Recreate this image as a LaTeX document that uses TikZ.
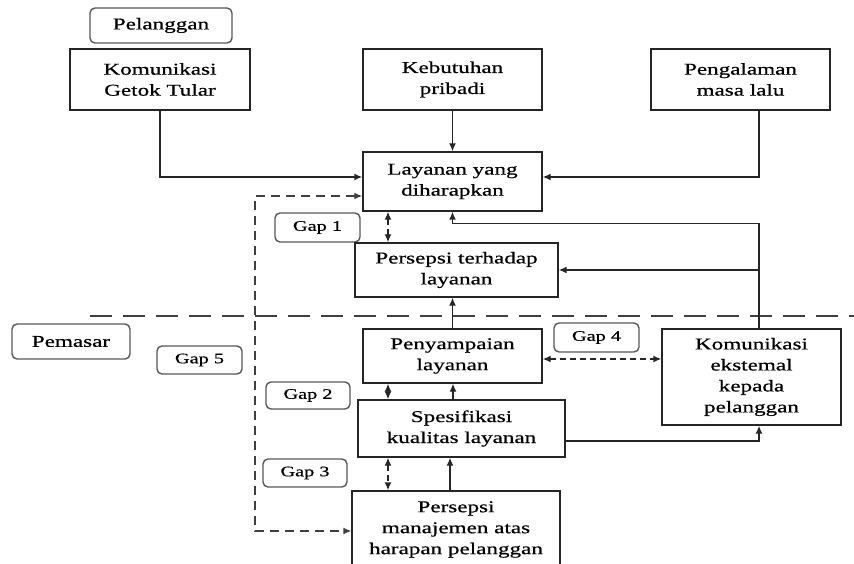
\documentclass[tikz,border=0pt]{standalone}
\usepackage{fontspec}
\setmainfont{Liberation Serif}[FakeStretch=1.4,FakeBold=0.6]
\usetikzlibrary{arrows.meta,calc}
\begin{document}
\begin{tikzpicture}[x=1pt,y=-1pt,
  box/.style={draw=black!85, line width=1.4pt, align=center, inner sep=0pt, font=\fontsize{16.5}{21}\selectfont},
  tag/.style={draw=black!65, line width=1.4pt, rounded corners=5pt, align=center, inner sep=0pt, font=\fontsize{14.5}{16}\selectfont},
  bigtag/.style={tag, font=\fontsize{16.5}{18}\selectfont},
  arr/.style={draw=black!85, line width=1.4pt, -{Latex[length=8pt,width=7pt]}},
  dbl/.style={draw=black!85, line width=1.4pt, dash pattern=on 6pt off 4pt, {Latex[length=8pt,width=7pt]}-{Latex[length=8pt,width=7pt]}},
  dline/.style={draw=black!75, line width=1.4pt, dash pattern=on 9pt off 6pt},
  sepline/.style={draw=black!75, line width=1.4pt, dash pattern=on 22pt off 11pt}
]
\useasboundingbox (0,0) rectangle (854,564);
\clip (0,0) rectangle (854,564);

% customer side
\node[bigtag, minimum width=142pt, minimum height=35pt] (pel) at (161,25.5) {Pelanggan};
\node[box, minimum width=180pt, minimum height=61pt] (kgt) at (160,79.5) {Komunikasi\\Getok Tular};
\node[box, minimum width=179pt, minimum height=61pt] (keb) at (452.5,79.5) {Kebutuhan\\pribadi};
\node[box, minimum width=179pt, minimum height=61pt] (pen) at (740.5,79.5) {Pengalaman\\masa lalu};
\node[box, minimum width=179pt, minimum height=59pt] (lyd) at (452.5,181.5) {Layanan yang\\diharapkan};
\node[tag, minimum width=85pt, minimum height=29pt] (gap1) at (317.5,227.5) {Gap 1};
\node[box, minimum width=203pt, minimum height=54pt] (pth) at (456.5,270) {Persepsi terhadap\\layanan};

% separator
\coordinate (sepL) at (90,316);
\coordinate (sepR) at (854,316);
\draw[sepline] (sepL) -- (sepR);

% marketer side
\node[bigtag, minimum width=118pt, minimum height=35pt] (pem) at (71,341.5) {Pemasar};
\node[tag, minimum width=85pt, minimum height=28pt] (gap5) at (199.5,360) {Gap 5};
\node[box, minimum width=179pt, minimum height=54pt] (pny) at (452.5,356) {Penyampaian\\layanan};
\node[tag, minimum width=85pt, minimum height=29pt] (gap4) at (596.5,337.5) {Gap 4};
\node[box, minimum width=179pt, minimum height=96pt] (kek) at (751.5,377) {Komunikasi\\ekstemal\\kepada\\pelanggan};
\node[tag, minimum width=84pt, minimum height=27pt] (gap2) at (308,395.5) {Gap 2};
\node[box, minimum width=207pt, minimum height=57pt] (spk) at (461.5,428.5) {Spesifikasi\\kualitas layanan};
\node[tag, minimum width=84pt, minimum height=28pt] (gap3) at (305,473) {Gap 3};
\node[box, minimum width=208pt, minimum height=77pt] (pma) at (456,529.5) {Persepsi\\manajemen atas\\harapan pelanggan};

% connectors, customer side
\draw[arr] (kgt.south) |- ([yshift=4.5pt]lyd.west);
\draw[arr] (keb.south) -- (lyd.north);
\draw[arr] ([xshift=18.5pt]pen.south) |- ([yshift=4.5pt]lyd.east);
\draw[dbl] ([xshift=-64.5pt]lyd.south) -- ([xshift=-64.5pt]lyd.south |- pth.north);

% Gap 5 dashed loop
\coordinate (g5bot) at (255,531);
\draw[dline, {Latex[length=8pt,width=7pt]}-{Latex[length=8pt,width=7pt]}] ([yshift=-14.5pt]lyd.west) -| (g5bot) -- (g5bot -| pma.west);

% external communication feedback
\draw[arr] ([xshift=7.5pt]kek.north) |- ([yshift=-12pt]lyd.south) -- (lyd.south);
\draw[arr] ([xshift=7.5pt]kek.north |- pth.east) -- (pth.east);

% connectors, marketer side
\draw[arr] (pny.north) -- (pny.north |- pth.south);
\draw[dbl] ([yshift=-3pt]pny.east) -- ([yshift=-3pt]pny.east -| kek.west);
\draw[dbl] ([xshift=-64.5pt]pny.south) -- ([xshift=-64.5pt]pny.south |- spk.north);
\draw[arr] ([xshift=-8.5pt]spk.north) -- ([xshift=-8.5pt]spk.north |- pny.south);
\draw[arr] ([yshift=-12.5pt]spk.east) -| ([xshift=7.5pt]kek.south);
\draw[dbl] ([xshift=-73.5pt]spk.south) -- ([xshift=-73.5pt]spk.south |- pma.north);
\draw[arr] ([xshift=-6pt]pma.north) -- ([xshift=-6pt]pma.north |- spk.south);
\end{tikzpicture}
\end{document}
